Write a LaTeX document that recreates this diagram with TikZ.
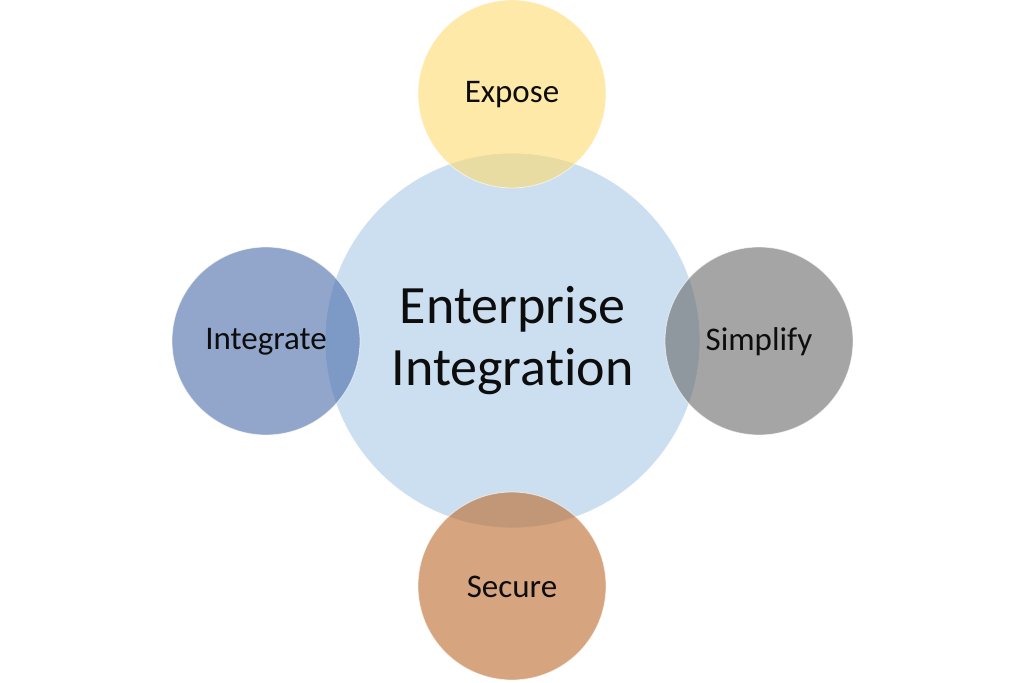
\documentclass[tikz,border=0pt]{standalone}
\usepackage{fontspec}
\setmainfont{Carlito}[Ligatures=NoCommon]
\definecolor{cblue}{RGB}{204,223,241}
\definecolor{cyellow}{RGB}{253,218,110}
\definecolor{cnavy}{RGB}{73,107,168}
\definecolor{cgray}{RGB}{105,105,105}
\definecolor{corange}{RGB}{187,103,40}
\definecolor{ctext}{RGB}{13,13,13}
\tikzset{
  bigcircle/.style={circle, fill=cblue, draw=white, line width=0.8pt, minimum size=375pt, inner sep=0pt},
  smallcircle/.style={circle, fill opacity=0.6, draw=white, draw opacity=0.6, line width=0.8pt, minimum size=188pt, inner sep=0pt},
  bigtext/.style={font=\fontsize{54}{62}\selectfont, text=ctext, align=center},
  smalltext/.style={font=\fontsize{33}{38}\selectfont, text=ctext}
}
\begin{document}
\begin{tikzpicture}[x=1pt,y=-1pt]
\useasboundingbox (0,0) rectangle (1024,682);
\node[bigcircle] (center) at (512.5,340.5) {};
\node[smallcircle, fill=cyellow] (expose) at (512,94) {};
\node[smallcircle, fill=cnavy] (integrate) at (266,341) {};
\node[smallcircle, fill=cgray] (simplify) at (759,341) {};
\node[smallcircle, fill=corange] (secure) at (512,586) {};
\node[bigtext] (centertext) at (512.5,341) {Enterprise\\Integration};
\node[smalltext] (exposetext) at (512,95) {Expose};
\node[smalltext] (integratetext) at (266,342) {Integrate};
\node[smalltext] (simplifytext) at (759,342) {Simplify};
\node[smalltext] (securetext) at (512,587) {Secure};
\end{tikzpicture}
\end{document}
